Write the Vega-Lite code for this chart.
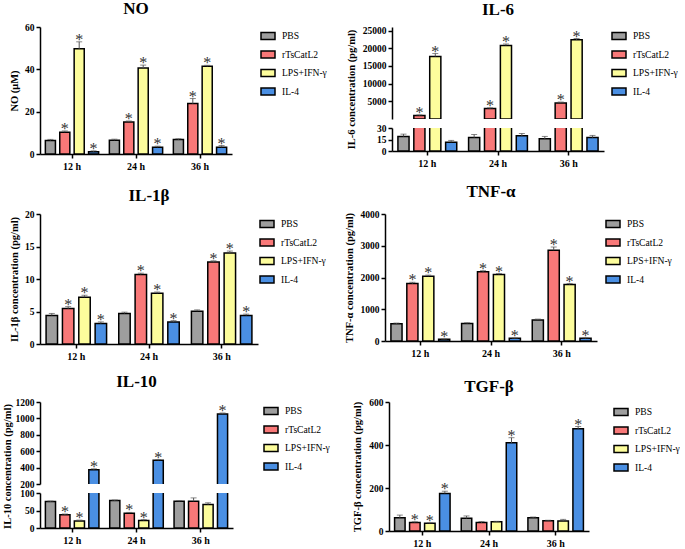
{
  "$schema": "https://vega.github.io/schema/vega-lite/v6.json",
  "padding": {"left": 1, "top": 0, "right": 0, "bottom": 0},
  "background": "white",
  "config": {
    "view": {"stroke": null},
    "font": "Liberation Serif",
    "title": {"font": "Liberation Serif", "fontSize": 17, "fontWeight": "bold", "color": "black", "frame": "group", "anchor": "middle", "offset": 5},
    "axis": {"domainColor": "black", "domainWidth": 1.5, "tickColor": "black", "tickWidth": 1.5, "tickSize": 4, "labelFont": "Liberation Serif", "labelFontWeight": "bold", "labelColor": "black", "titleFont": "Liberation Serif", "titleFontWeight": "bold", "titleFontSize": 10.5, "titleColor": "black", "grid": false, "labelPadding": 2, "labelOverlap": false},
    "axisX": {"labelFontSize": 10, "labelAngle": 0, "labelPadding": 3},
    "axisY": {"labelFontSize": 9.5, "format": "d", "labelOverlap": false, "tickCount": 12}
  },
  "datasets": {
    "NO": [
      {"t": "12 h", "g": "PBS", "v": 6.4, "hi": 6.9, "s": 0},
      {"t": "12 h", "g": "rTsCatL2", "v": 10.3, "hi": 10.9, "s": 1},
      {"t": "12 h", "g": "LPS+IFN-γ", "v": 49.7, "hi": 53.0, "s": 1},
      {"t": "12 h", "g": "IL-4", "v": 1.1, "hi": 1.5, "s": 1},
      {"t": "24 h", "g": "PBS", "v": 6.5, "hi": 7.0, "s": 0},
      {"t": "24 h", "g": "rTsCatL2", "v": 15.1, "hi": 15.6, "s": 1},
      {"t": "24 h", "g": "LPS+IFN-γ", "v": 40.6, "hi": 42.0, "s": 1},
      {"t": "24 h", "g": "IL-4", "v": 3.2, "hi": 3.7, "s": 1},
      {"t": "36 h", "g": "PBS", "v": 6.8, "hi": 7.2, "s": 0},
      {"t": "36 h", "g": "rTsCatL2", "v": 23.8, "hi": 26.2, "s": 1},
      {"t": "36 h", "g": "LPS+IFN-γ", "v": 41.4, "hi": 41.9, "s": 1},
      {"t": "36 h", "g": "IL-4", "v": 3.2, "hi": 4.0, "s": 1}
    ],
    "IL6": [
      {"t": "12 h", "g": "PBS", "v": 19, "hi": 22, "s": 0},
      {"t": "12 h", "g": "rTsCatL2", "v": 980, "hi": 1150, "s": 1},
      {"t": "12 h", "g": "LPS+IFN-γ", "v": 17680, "hi": 18500, "s": 1},
      {"t": "12 h", "g": "IL-4", "v": 11.5, "hi": 13.8, "s": 0},
      {"t": "24 h", "g": "PBS", "v": 17.6, "hi": 21.5, "s": 0},
      {"t": "24 h", "g": "rTsCatL2", "v": 2950, "hi": 3150, "s": 1},
      {"t": "24 h", "g": "LPS+IFN-γ", "v": 20800, "hi": 21200, "s": 1},
      {"t": "24 h", "g": "IL-4", "v": 19.8, "hi": 22.8, "s": 0},
      {"t": "36 h", "g": "PBS", "v": 15.9, "hi": 19, "s": 0},
      {"t": "36 h", "g": "rTsCatL2", "v": 4500, "hi": 4800, "s": 1},
      {"t": "36 h", "g": "LPS+IFN-γ", "v": 22400, "hi": 22750, "s": 1},
      {"t": "36 h", "g": "IL-4", "v": 17.6, "hi": 20.3, "s": 0}
    ],
    "IL1b": [
      {"t": "12 h", "g": "PBS", "v": 4.4, "hi": 4.7, "s": 0},
      {"t": "12 h", "g": "rTsCatL2", "v": 5.45, "hi": 5.75, "s": 1},
      {"t": "12 h", "g": "LPS+IFN-γ", "v": 7.2, "hi": 7.5, "s": 1},
      {"t": "12 h", "g": "IL-4", "v": 3.15, "hi": 3.4, "s": 1},
      {"t": "24 h", "g": "PBS", "v": 4.7, "hi": 4.9, "s": 0},
      {"t": "24 h", "g": "rTsCatL2", "v": 10.7, "hi": 10.9, "s": 1},
      {"t": "24 h", "g": "LPS+IFN-γ", "v": 7.8, "hi": 8.0, "s": 1},
      {"t": "24 h", "g": "IL-4", "v": 3.4, "hi": 3.6, "s": 1},
      {"t": "36 h", "g": "PBS", "v": 5.05, "hi": 5.25, "s": 0},
      {"t": "36 h", "g": "rTsCatL2", "v": 12.6, "hi": 12.8, "s": 1},
      {"t": "36 h", "g": "LPS+IFN-γ", "v": 14.0, "hi": 14.3, "s": 1},
      {"t": "36 h", "g": "IL-4", "v": 4.4, "hi": 4.6, "s": 1}
    ],
    "TNF": [
      {"t": "12 h", "g": "PBS", "v": 545, "hi": 565, "s": 0},
      {"t": "12 h", "g": "rTsCatL2", "v": 1810, "hi": 1850, "s": 1},
      {"t": "12 h", "g": "LPS+IFN-γ", "v": 2040, "hi": 2075, "s": 1},
      {"t": "12 h", "g": "IL-4", "v": 52, "hi": 62, "s": 1},
      {"t": "24 h", "g": "PBS", "v": 555, "hi": 575, "s": 0},
      {"t": "24 h", "g": "rTsCatL2", "v": 2180, "hi": 2215, "s": 1},
      {"t": "24 h", "g": "LPS+IFN-γ", "v": 2095, "hi": 2125, "s": 1},
      {"t": "24 h", "g": "IL-4", "v": 84, "hi": 95, "s": 1},
      {"t": "36 h", "g": "PBS", "v": 660, "hi": 690, "s": 0},
      {"t": "36 h", "g": "rTsCatL2", "v": 2860, "hi": 2960, "s": 1},
      {"t": "36 h", "g": "LPS+IFN-γ", "v": 1780, "hi": 1810, "s": 1},
      {"t": "36 h", "g": "IL-4", "v": 84, "hi": 100, "s": 1}
    ],
    "IL10": [
      {"t": "12 h", "g": "PBS", "v": 75.5, "hi": 77, "s": 0},
      {"t": "12 h", "g": "rTsCatL2", "v": 37.7, "hi": 40, "s": 1},
      {"t": "12 h", "g": "LPS+IFN-γ", "v": 19.8, "hi": 22.6, "s": 1},
      {"t": "12 h", "g": "IL-4", "v": 375, "hi": 385, "s": 1},
      {"t": "24 h", "g": "PBS", "v": 78.3, "hi": 80, "s": 0},
      {"t": "24 h", "g": "rTsCatL2", "v": 42.5, "hi": 44.5, "s": 1},
      {"t": "24 h", "g": "LPS+IFN-γ", "v": 21.7, "hi": 24, "s": 1},
      {"t": "24 h", "g": "IL-4", "v": 489, "hi": 497, "s": 1},
      {"t": "36 h", "g": "PBS", "v": 76.4, "hi": 78, "s": 0},
      {"t": "36 h", "g": "rTsCatL2", "v": 76.4, "hi": 86, "s": 0},
      {"t": "36 h", "g": "LPS+IFN-γ", "v": 67, "hi": 72, "s": 0},
      {"t": "36 h", "g": "IL-4", "v": 1054, "hi": 1066, "s": 1}
    ],
    "TGF": [
      {"t": "12 h", "g": "PBS", "v": 62, "hi": 74, "s": 0},
      {"t": "12 h", "g": "rTsCatL2", "v": 40, "hi": 43, "s": 1},
      {"t": "12 h", "g": "LPS+IFN-γ", "v": 36, "hi": 38, "s": 1},
      {"t": "12 h", "g": "IL-4", "v": 175, "hi": 185, "s": 1},
      {"t": "24 h", "g": "PBS", "v": 59, "hi": 70, "s": 0},
      {"t": "24 h", "g": "rTsCatL2", "v": 39, "hi": 44, "s": 0},
      {"t": "24 h", "g": "LPS+IFN-γ", "v": 43, "hi": 45, "s": 0},
      {"t": "24 h", "g": "IL-4", "v": 410, "hi": 434, "s": 1},
      {"t": "36 h", "g": "PBS", "v": 62, "hi": 65, "s": 0},
      {"t": "36 h", "g": "rTsCatL2", "v": 48, "hi": 50, "s": 0},
      {"t": "36 h", "g": "LPS+IFN-γ", "v": 46, "hi": 54, "s": 0},
      {"t": "36 h", "g": "IL-4", "v": 476, "hi": 486, "s": 1}
    ]
  },
  "spacing": 12,
  "resolve": {"scale": {"color": "independent", "x": "independent", "y": "independent", "xOffset": "independent"}, "legend": {"color": "independent"}},
  "vconcat": [
    {
      "spacing": 19,
      "resolve": {"scale": {"color": "independent", "x": "independent", "y": "independent", "xOffset": "independent"}, "legend": {"color": "independent"}},
      "hconcat": [
        {
          "width": 192, "height": 127,
          "title": {"text": "NO", "offset": 4},
          "data": {"name": "NO"},
          "encoding": {
            "x": {"field": "t", "type": "nominal", "sort": ["12 h", "24 h", "36 h"], "scale": {"paddingInner": 0.1, "paddingOuter": 0.05}, "axis": {"title": null}},
            "xOffset": {"field": "g", "type": "nominal", "sort": ["PBS", "rTsCatL2", "LPS+IFN-γ", "IL-4"], "scale": {"paddingInner": 0.3, "paddingOuter": 0.15}}
          },
          "layer": [
            {"mark": {"type": "bar", "stroke": "black", "strokeWidth": 1.5}, "encoding": {
              "y": {"field": "v", "type": "quantitative", "title": "NO (μM)", "scale": {"domain": [0, 60]}, "axis": {"values": [0, 20, 40, 60], "tickCount": 12, "titlePadding": 5, "labelOverlap": false}},
              "color": {"field": "g", "type": "nominal", "scale": {"domain": ["PBS", "rTsCatL2", "LPS+IFN-γ", "IL-4"], "range": ["#9e9e9e", "#f87878", "#fdfd9c", "#4a8fe3"]}, "legend": {"orient": "none", "legendX": 220, "legendY": 1, "title": null, "symbolType": "M-1,-0.5H1V0.5H-1Z", "symbolSize": 196, "symbolStrokeColor": "black", "symbolStrokeWidth": 1.5, "labelFont": "Liberation Serif", "labelFontSize": 9.6, "labelColor": "black", "rowPadding": 3.5, "labelOffset": 6, "padding": 0}}}},
            {"mark": {"type": "rule", "color": "#555", "strokeWidth": 1}, "encoding": {"y": {"field": "v", "type": "quantitative", "title": "NO (μM)"}, "y2": {"field": "hi"}}},
            {"mark": {"type": "tick", "color": "#555", "thickness": 1, "size": 6}, "encoding": {"y": {"field": "hi", "type": "quantitative", "title": "NO (μM)"}}},
            {"transform": [{"filter": "datum.s == 1"}], "mark": {"type": "text", "text": "*", "fontSize": 16, "color": "#333", "baseline": "alphabetic", "dy": 3}, "encoding": {"y": {"field": "hi", "type": "quantitative", "title": "NO (μM)"}}}
          ]
        },
        {
          "spacing": 9,
          "bounds": "flush",
          "resolve": {"scale": {"color": "independent", "y": "independent"}, "legend": {"color": "independent"}},
          "vconcat": [
            {
              "width": 212, "height": 92,
              "title": {"text": "IL-6", "offset": 7},
              "data": {"name": "IL6"},
              "encoding": {
                "x": {"field": "t", "type": "nominal", "sort": ["12 h", "24 h", "36 h"], "scale": {"paddingInner": 0.1, "paddingOuter": 0.05}, "axis": null},
                "xOffset": {"field": "g", "type": "nominal", "sort": ["PBS", "rTsCatL2", "LPS+IFN-γ", "IL-4"], "scale": {"paddingInner": 0.3, "paddingOuter": 0.15}}
              },
              "layer": [
                {"transform": [{"filter": "datum.v > 300"}], "mark": {"type": "bar", "stroke": "black", "strokeWidth": 1.5, "clip": true}, "encoding": {
                  "y": {"field": "v", "type": "quantitative", "title": "IL-6 concentration (pg/ml)", "scale": {"domain": [300, 25000], "zero": false}, "axis": {"values": [5000, 10000, 15000, 20000, 25000], "tickCount": 12, "titlePadding": 6, "titleY": 62, "labelOverlap": false}},
                  "y2": {"datum": 0},
                  "color": {"field": "g", "type": "nominal", "scale": {"domain": ["PBS", "rTsCatL2", "LPS+IFN-γ", "IL-4"], "range": ["#9e9e9e", "#f87878", "#fdfd9c", "#4a8fe3"]}, "legend": {"orient": "none", "legendX": 219, "legendY": 1, "title": null, "symbolType": "M-1,-0.5H1V0.5H-1Z", "symbolSize": 196, "symbolStrokeColor": "black", "symbolStrokeWidth": 1.5, "labelFont": "Liberation Serif", "labelFontSize": 9.6, "labelColor": "black", "rowPadding": 3.5, "labelOffset": 6, "padding": 0}}}},
                {"transform": [{"filter": "datum.v > 300"}], "mark": {"type": "rule", "color": "#555", "strokeWidth": 1, "clip": true}, "encoding": {"y": {"field": "v", "type": "quantitative", "title": "IL-6 concentration (pg/ml)"}, "y2": {"field": "hi"}}},
                {"transform": [{"filter": "datum.v > 300"}], "mark": {"type": "tick", "color": "#555", "thickness": 1, "size": 6, "clip": true}, "encoding": {"y": {"field": "hi", "type": "quantitative", "title": "IL-6 concentration (pg/ml)"}}},
                {"transform": [{"filter": "datum.s == 1"}], "mark": {"type": "text", "text": "*", "fontSize": 16, "color": "#333", "baseline": "alphabetic", "dy": 3, "clip": true}, "encoding": {"y": {"field": "hi", "type": "quantitative", "title": "IL-6 concentration (pg/ml)"}}}
              ]
            },
            {
              "width": 212, "height": 23,
              "data": {"name": "IL6"},
              "encoding": {
                "x": {"field": "t", "type": "nominal", "sort": ["12 h", "24 h", "36 h"], "scale": {"paddingInner": 0.1, "paddingOuter": 0.05}, "axis": {"title": null}},
                "xOffset": {"field": "g", "type": "nominal", "sort": ["PBS", "rTsCatL2", "LPS+IFN-γ", "IL-4"], "scale": {"paddingInner": 0.3, "paddingOuter": 0.15}}
              },
              "layer": [
                {"mark": {"type": "bar", "stroke": "black", "strokeWidth": 1.5, "clip": true}, "encoding": {
                  "y": {"field": "v", "type": "quantitative", "title": null, "scale": {"domain": [0, 30]}, "axis": {"values": [0, 15, 30], "tickCount": 12, "labelOverlap": false}},
                  "color": {"field": "g", "type": "nominal", "scale": {"domain": ["PBS", "rTsCatL2", "LPS+IFN-γ", "IL-4"], "range": ["#9e9e9e", "#f87878", "#fdfd9c", "#4a8fe3"]}, "legend": null}}},
                {"mark": {"type": "rule", "color": "#555", "strokeWidth": 1, "clip": true}, "encoding": {"y": {"field": "v", "type": "quantitative", "title": null}, "y2": {"field": "hi"}}},
                {"mark": {"type": "tick", "color": "#555", "thickness": 1, "size": 6, "clip": true}, "encoding": {"y": {"field": "hi", "type": "quantitative", "title": null}}}
              ]
            }
          ]
        }
      ]
    },
    {
      "spacing": 17,
      "resolve": {"scale": {"color": "independent", "x": "independent", "y": "independent", "xOffset": "independent"}, "legend": {"color": "independent"}},
      "hconcat": [
        {
          "width": 218, "height": 130,
          "title": {"text": "IL-1β", "offset": 4},
          "data": {"name": "IL1b"},
          "encoding": {
            "x": {"field": "t", "type": "nominal", "sort": ["12 h", "24 h", "36 h"], "scale": {"paddingInner": 0.1, "paddingOuter": 0.05}, "axis": {"title": null}},
            "xOffset": {"field": "g", "type": "nominal", "sort": ["PBS", "rTsCatL2", "LPS+IFN-γ", "IL-4"], "scale": {"paddingInner": 0.3, "paddingOuter": 0.15}}
          },
          "layer": [
            {"mark": {"type": "bar", "stroke": "black", "strokeWidth": 1.5}, "encoding": {
              "y": {"field": "v", "type": "quantitative", "title": "IL-1β concentration (pg/ml)", "scale": {"domain": [0, 20]}, "axis": {"values": [0, 5, 10, 15, 20], "tickCount": 12, "titlePadding": 5, "labelOverlap": false}},
              "color": {"field": "g", "type": "nominal", "scale": {"domain": ["PBS", "rTsCatL2", "LPS+IFN-γ", "IL-4"], "range": ["#9e9e9e", "#f87878", "#fdfd9c", "#4a8fe3"]}, "legend": {"orient": "none", "legendX": 219, "legendY": 2, "title": null, "symbolType": "M-1,-0.5H1V0.5H-1Z", "symbolSize": 196, "symbolStrokeColor": "black", "symbolStrokeWidth": 1.5, "labelFont": "Liberation Serif", "labelFontSize": 9.6, "labelColor": "black", "rowPadding": 3.5, "labelOffset": 6, "padding": 0}}}},
            {"mark": {"type": "rule", "color": "#555", "strokeWidth": 1}, "encoding": {"y": {"field": "v", "type": "quantitative", "title": "IL-1β concentration (pg/ml)"}, "y2": {"field": "hi"}}},
            {"mark": {"type": "tick", "color": "#555", "thickness": 1, "size": 6}, "encoding": {"y": {"field": "hi", "type": "quantitative", "title": "IL-1β concentration (pg/ml)"}}},
            {"transform": [{"filter": "datum.s == 1"}], "mark": {"type": "text", "text": "*", "fontSize": 16, "color": "#333", "baseline": "alphabetic", "dy": 3}, "encoding": {"y": {"field": "hi", "type": "quantitative", "title": "IL-1β concentration (pg/ml)"}}}
          ]
        },
        {
          "width": 212, "height": 127,
          "title": {"text": "TNF-α", "offset": 8},
          "data": {"name": "TNF"},
          "encoding": {
            "x": {"field": "t", "type": "nominal", "sort": ["12 h", "24 h", "36 h"], "scale": {"paddingInner": 0.1, "paddingOuter": 0.05}, "axis": {"title": null}},
            "xOffset": {"field": "g", "type": "nominal", "sort": ["PBS", "rTsCatL2", "LPS+IFN-γ", "IL-4"], "scale": {"paddingInner": 0.3, "paddingOuter": 0.15}}
          },
          "layer": [
            {"mark": {"type": "bar", "stroke": "black", "strokeWidth": 1.5}, "encoding": {
              "y": {"field": "v", "type": "quantitative", "title": "TNF-α concentration (pg/ml)", "scale": {"domain": [0, 4000]}, "axis": {"values": [0, 1000, 2000, 3000, 4000], "tickCount": 12, "titlePadding": 6, "labelOverlap": false}},
              "color": {"field": "g", "type": "nominal", "scale": {"domain": ["PBS", "rTsCatL2", "LPS+IFN-γ", "IL-4"], "range": ["#9e9e9e", "#f87878", "#fdfd9c", "#4a8fe3"]}, "legend": {"orient": "none", "legendX": 220, "legendY": 2, "title": null, "symbolType": "M-1,-0.5H1V0.5H-1Z", "symbolSize": 196, "symbolStrokeColor": "black", "symbolStrokeWidth": 1.5, "labelFont": "Liberation Serif", "labelFontSize": 9.6, "labelColor": "black", "rowPadding": 3.5, "labelOffset": 6, "padding": 0}}}},
            {"mark": {"type": "rule", "color": "#555", "strokeWidth": 1}, "encoding": {"y": {"field": "v", "type": "quantitative", "title": "TNF-α concentration (pg/ml)"}, "y2": {"field": "hi"}}},
            {"mark": {"type": "tick", "color": "#555", "thickness": 1, "size": 6}, "encoding": {"y": {"field": "hi", "type": "quantitative", "title": "TNF-α concentration (pg/ml)"}}},
            {"transform": [{"filter": "datum.s == 1"}], "mark": {"type": "text", "text": "*", "fontSize": 16, "color": "#333", "baseline": "alphabetic", "dy": 3}, "encoding": {"y": {"field": "hi", "type": "quantitative", "title": "TNF-α concentration (pg/ml)"}}}
          ]
        }
      ]
    },
    {
      "spacing": 22,
      "resolve": {"scale": {"color": "independent", "x": "independent", "y": "independent", "xOffset": "independent"}, "legend": {"color": "independent"}},
      "hconcat": [
        {
          "spacing": 9,
          "bounds": "flush",
          "resolve": {"scale": {"color": "independent", "y": "independent"}, "legend": {"color": "independent"}},
          "vconcat": [
            {
              "width": 193, "height": 82,
              "title": {"text": "IL-10", "offset": 6},
              "data": {"name": "IL10"},
              "encoding": {
                "x": {"field": "t", "type": "nominal", "sort": ["12 h", "24 h", "36 h"], "scale": {"paddingInner": 0.1, "paddingOuter": 0.05}, "axis": null},
                "xOffset": {"field": "g", "type": "nominal", "sort": ["PBS", "rTsCatL2", "LPS+IFN-γ", "IL-4"], "scale": {"paddingInner": 0.3, "paddingOuter": 0.15}}
              },
              "layer": [
                {"transform": [{"filter": "datum.v > 200"}], "mark": {"type": "bar", "stroke": "black", "strokeWidth": 1.5, "clip": true}, "encoding": {
                  "y": {"field": "v", "type": "quantitative", "title": "IL-10 concentration (pg/ml)", "scale": {"domain": [200, 1200], "zero": false}, "axis": {"values": [200, 400, 600, 800, 1000, 1200], "tickCount": 12, "titlePadding": 3, "titleY": 64, "labelOverlap": false}},
                  "y2": {"datum": 0},
                  "color": {"field": "g", "type": "nominal", "scale": {"domain": ["PBS", "rTsCatL2", "LPS+IFN-γ", "IL-4"], "range": ["#9e9e9e", "#f87878", "#fdfd9c", "#4a8fe3"]}, "legend": {"orient": "none", "legendX": 223, "legendY": 1, "title": null, "symbolType": "M-1,-0.5H1V0.5H-1Z", "symbolSize": 196, "symbolStrokeColor": "black", "symbolStrokeWidth": 1.5, "labelFont": "Liberation Serif", "labelFontSize": 9.6, "labelColor": "black", "rowPadding": 3.5, "labelOffset": 6, "padding": 0}}}},
                {"transform": [{"filter": "datum.v > 200"}], "mark": {"type": "rule", "color": "#555", "strokeWidth": 1, "clip": true}, "encoding": {"y": {"field": "v", "type": "quantitative", "title": "IL-10 concentration (pg/ml)"}, "y2": {"field": "hi"}}},
                {"transform": [{"filter": "datum.v > 200"}], "mark": {"type": "tick", "color": "#555", "thickness": 1, "size": 6, "clip": true}, "encoding": {"y": {"field": "hi", "type": "quantitative", "title": "IL-10 concentration (pg/ml)"}}},
                {"transform": [{"filter": "datum.s == 1"}], "mark": {"type": "text", "text": "*", "fontSize": 16, "color": "#333", "baseline": "alphabetic", "dy": 3, "clip": true}, "encoding": {"y": {"field": "hi", "type": "quantitative", "title": "IL-10 concentration (pg/ml)"}}}
              ]
            },
            {
              "width": 193, "height": 35,
              "data": {"name": "IL10"},
              "encoding": {
                "x": {"field": "t", "type": "nominal", "sort": ["12 h", "24 h", "36 h"], "scale": {"paddingInner": 0.1, "paddingOuter": 0.05}, "axis": {"title": null}},
                "xOffset": {"field": "g", "type": "nominal", "sort": ["PBS", "rTsCatL2", "LPS+IFN-γ", "IL-4"], "scale": {"paddingInner": 0.3, "paddingOuter": 0.15}}
              },
              "layer": [
                {"mark": {"type": "bar", "stroke": "black", "strokeWidth": 1.5, "clip": true}, "encoding": {
                  "y": {"field": "v", "type": "quantitative", "title": null, "scale": {"domain": [0, 100]}, "axis": {"values": [0, 50, 100], "tickCount": 12, "labelOverlap": false}},
                  "color": {"field": "g", "type": "nominal", "scale": {"domain": ["PBS", "rTsCatL2", "LPS+IFN-γ", "IL-4"], "range": ["#9e9e9e", "#f87878", "#fdfd9c", "#4a8fe3"]}, "legend": null}}},
                {"mark": {"type": "rule", "color": "#555", "strokeWidth": 1, "clip": true}, "encoding": {"y": {"field": "v", "type": "quantitative", "title": null}, "y2": {"field": "hi"}}},
                {"mark": {"type": "tick", "color": "#555", "thickness": 1, "size": 6, "clip": true}, "encoding": {"y": {"field": "hi", "type": "quantitative", "title": null}}},
                {"transform": [{"filter": "datum.s == 1"}], "mark": {"type": "text", "text": "*", "fontSize": 16, "color": "#333", "baseline": "alphabetic", "dy": 3, "clip": true}, "encoding": {"y": {"field": "hi", "type": "quantitative", "title": null}}}
              ]
            }
          ]
        },
        {
          "width": 200, "height": 129,
          "title": {"text": "TGF-β", "offset": 1},
          "data": {"name": "TGF"},
          "encoding": {
            "x": {"field": "t", "type": "nominal", "sort": ["12 h", "24 h", "36 h"], "scale": {"paddingInner": 0.1, "paddingOuter": 0.05}, "axis": {"title": null}},
            "xOffset": {"field": "g", "type": "nominal", "sort": ["PBS", "rTsCatL2", "LPS+IFN-γ", "IL-4"], "scale": {"paddingInner": 0.3, "paddingOuter": 0.15}}
          },
          "layer": [
            {"mark": {"type": "bar", "stroke": "black", "strokeWidth": 1.5}, "encoding": {
              "y": {"field": "v", "type": "quantitative", "title": "TGF-β concentration (pg/ml)", "scale": {"domain": [0, 600]}, "axis": {"values": [0, 200, 400, 600], "tickCount": 12, "titlePadding": 6, "labelOverlap": false}},
              "color": {"field": "g", "type": "nominal", "scale": {"domain": ["PBS", "rTsCatL2", "LPS+IFN-γ", "IL-4"], "range": ["#9e9e9e", "#f87878", "#fdfd9c", "#4a8fe3"]}, "legend": {"orient": "none", "legendX": 224, "legendY": 2, "title": null, "symbolType": "M-1,-0.5H1V0.5H-1Z", "symbolSize": 196, "symbolStrokeColor": "black", "symbolStrokeWidth": 1.5, "labelFont": "Liberation Serif", "labelFontSize": 9.6, "labelColor": "black", "rowPadding": 3.5, "labelOffset": 6, "padding": 0}}}},
            {"mark": {"type": "rule", "color": "#555", "strokeWidth": 1}, "encoding": {"y": {"field": "v", "type": "quantitative", "title": "TGF-β concentration (pg/ml)"}, "y2": {"field": "hi"}}},
            {"mark": {"type": "tick", "color": "#555", "thickness": 1, "size": 6}, "encoding": {"y": {"field": "hi", "type": "quantitative", "title": "TGF-β concentration (pg/ml)"}}},
            {"transform": [{"filter": "datum.s == 1"}], "mark": {"type": "text", "text": "*", "fontSize": 16, "color": "#333", "baseline": "alphabetic", "dy": 3}, "encoding": {"y": {"field": "hi", "type": "quantitative", "title": "TGF-β concentration (pg/ml)"}}}
          ]
        }
      ]
    }
  ]
}
